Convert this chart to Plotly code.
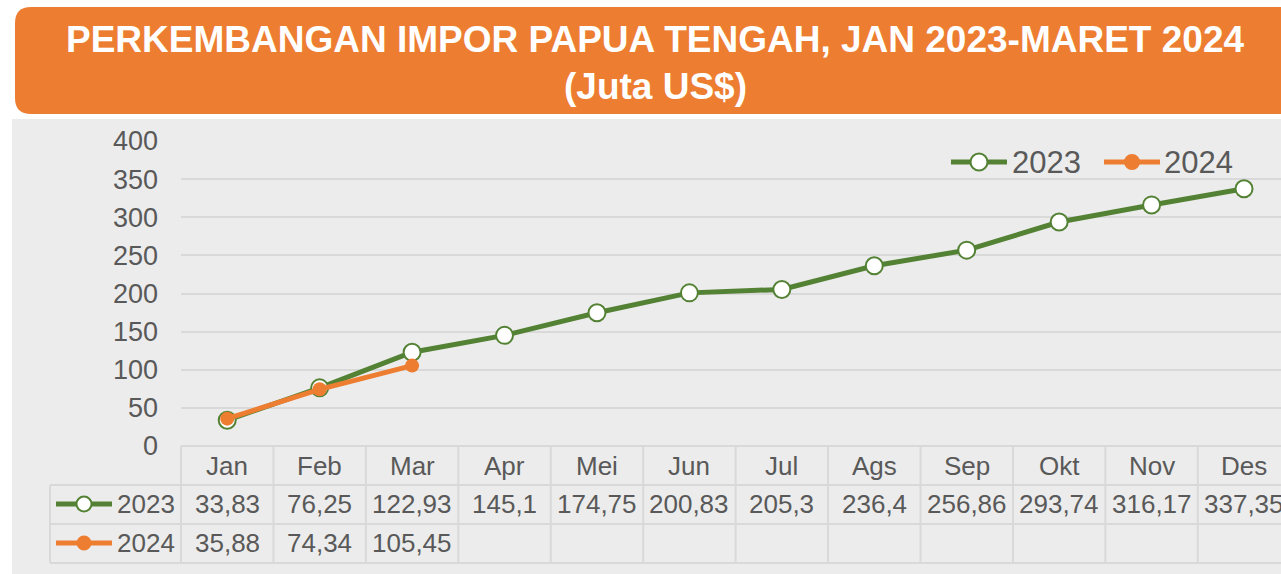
import plotly.graph_objects as go

months = ["Jan", "Feb", "Mar", "Apr", "Mei", "Jun", "Jul", "Ags", "Sep", "Okt", "Nov", "Des"]
imp_2023 = [33.83, 76.25, 122.93, 145.1, 174.75, 200.83, 205.3, 236.4, 256.86, 293.74, 316.17, 337.35]
imp_2024 = [35.88, 74.34, 105.45]
series_names = ["2023", "2024"]
title_line1 = "PERKEMBANGAN IMPOR PAPUA TENGAH, JAN 2023-MARET 2024"
title_line2 = "(Juta US$)"

GREEN = "#548235"
ORANGE = "#ED7D31"
TXT = "#595959"
GRID = "#D9D9D9"
BG = "#ECECEC"
FONT = "Liberation Sans, Arial, sans-serif"

OFF = 0  # body margin removed via post_script
W, H = 1281 - OFF, 574 - OFF
L, R = 181 - OFF, 0
PLOT_TOP, PLOT_BOT = 141 - OFF, 446 - OFF
T, B = PLOT_TOP, H - PLOT_BOT
PW = W - L - R
PH = H - T - B

def px(x):
    return (x - OFF - L) / PW

def py(y):
    return (PLOT_BOT - (y - OFF)) / PH

fig = go.Figure()
fig.add_trace(go.Scatter(
    x=months, y=imp_2023, name=series_names[0], mode="lines+markers",
    line=dict(color=GREEN, width=5),
    marker=dict(symbol="circle", size=17, color="white", line=dict(color=GREEN, width=2)),
    showlegend=False,
))
fig.add_trace(go.Scatter(
    x=months[:len(imp_2024)], y=imp_2024, name=series_names[1], mode="lines+markers",
    line=dict(color=ORANGE, width=5),
    marker=dict(symbol="circle", size=14, color=ORANGE),
    showlegend=False,
))

shapes = []
# grey chart area
shapes.append(dict(type="rect", xref="paper", yref="paper", x0=px(12), x1=px(1300), y0=py(119), y1=py(590),
                   fillcolor=BG, line=dict(width=0), layer="below"))
# orange rounded title banner
x0, x1, y0, y1, r = px(15), px(1330), py(7), py(114), 16
rx, ry = r / PW, r / PH
path = (f"M {x0 + rx},{y0} L {x1},{y0} L {x1},{y1} L {x0 + rx},{y1} "
        f"Q {x0},{y1} {x0},{y1 + ry} L {x0},{y0 - ry} Q {x0},{y0} {x0 + rx},{y0} Z")
shapes.append(dict(type="path", xref="paper", yref="paper", path=path,
                   fillcolor=ORANGE, line=dict(width=0), layer="below"))

# data table lines
lw = 2
shapes.append(dict(type="line", xref="paper", yref="paper", x0=px(181), x1=px(1300), y0=py(446), y1=py(446),
                   line=dict(color=GRID, width=lw)))
for yy in (485, 524, 563):
    shapes.append(dict(type="line", xref="paper", yref="paper", x0=px(50), x1=px(1300), y0=py(yy), y1=py(yy),
                       line=dict(color=GRID, width=lw)))
shapes.append(dict(type="line", xref="paper", yref="paper", x0=px(50), x1=px(50), y0=py(485), y1=py(563),
                   line=dict(color=GRID, width=lw)))
shapes.append(dict(type="line", xref="paper", yref="paper", x0=px(181), x1=px(181), y0=py(446), y1=py(563),
                   line=dict(color=GRID, width=lw)))
for i in range(len(months)):
    shapes.append(dict(type="line", xref="x", yref="paper", x0=i + 0.5, x1=i + 0.5, y0=py(446), y1=py(563),
                       line=dict(color=GRID, width=lw)))

def key(xl, xr, yy, col, fill, rr):
    shapes.append(dict(type="line", xref="paper", yref="paper", x0=px(xl), x1=px(xr), y0=py(yy), y1=py(yy),
                       line=dict(color=col, width=5)))
    xc = (xl + xr) / 2
    shapes.append(dict(type="circle", xref="paper", yref="paper", x0=px(xc - rr), x1=px(xc + rr),
                       y0=py(yy + rr), y1=py(yy - rr), fillcolor=fill, line=dict(color=col, width=2)))

# legend keys inside table
key(56, 112, 504, GREEN, "white", 7.5)
key(56, 112, 543, ORANGE, ORANGE, 6.5)
# top-right legend keys
key(951, 1007, 162, GREEN, "white", 8.5)
key(1104, 1160, 162, ORANGE, ORANGE, 7)

annotations = []
for txt, yy in ((title_line1, 40), (title_line2, 86)):
    annotations.append(dict(text=txt, xref="paper", yref="paper", x=px(655), y=py(yy),
                            xanchor="center", yanchor="middle", showarrow=False,
                            font=dict(family=FONT, size=37, color="white", weight="bold")))

def fmt(v):
    s = f"{v:.2f}".rstrip("0").rstrip(".")
    return s.replace(".", ",")

def cell(text, x, xref, yy, xanchor="center", size=26):
    annotations.append(dict(text=text, xref=xref, yref="paper", x=x, y=py(yy), xanchor=xanchor,
                            yanchor="middle", showarrow=False,
                            font=dict(family=FONT, size=size, color=TXT)))

for i, m in enumerate(months):
    cell(m, i, "x", 466)
    cell(fmt(imp_2023[i]), i, "x", 504)
for i, v in enumerate(imp_2024):
    cell(fmt(v), i, "x", 543)
for name, yy in zip(series_names, (504, 543)):
    cell(name, px(115), "paper", yy, xanchor="left")
# top-right legend labels
cell(series_names[0], px(1010), "paper", 162, xanchor="left", size=31)
cell(series_names[1], px(1162), "paper", 162, xanchor="left", size=31)

fig.update_layout(
    width=W, height=H,
    margin=dict(l=L, r=R, t=T, b=B, pad=0),
    paper_bgcolor="white",
    plot_bgcolor="rgba(0,0,0,0)",
    font=dict(family=FONT, color=TXT),
    shapes=shapes,
    annotations=annotations,
    showlegend=False,
    hovermode=False,
    xaxis=dict(range=[-0.5, 11.4], showticklabels=False, showgrid=False, zeroline=False,
               showline=False, ticks=""),
    yaxis=dict(range=[0, 400], dtick=50, showgrid=True, gridcolor=GRID, gridwidth=2,
               zeroline=False, showline=False, ticks="", ticklabelstandoff=22,
               tickfont=dict(family=FONT, size=27, color=TXT)),
)

fig.write_html("out.html", config={"displayModeBar": False},
               post_script="document.body.style.margin='0';document.body.style.overflow='hidden';")
